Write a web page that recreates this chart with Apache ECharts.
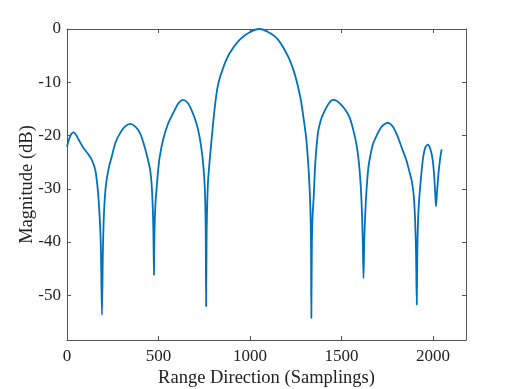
<!DOCTYPE html>
<html>
<head>
<meta charset="utf-8">
<script src="https://cdn.jsdelivr.net/npm/echarts@6/dist/echarts.min.js"></script>
<style>
    html, body { margin: 0; padding: 0; background: #fff; }
    #chart { width: 515px; height: 389px; }
</style>
</head>
<body>
<div id="chart"></div>
<script>
// 采样位置（距离向）
var samples = [
    0, 12, 24, 36, 50, 64, 91, 118, 136, 154, 162, 170, 178, 185, 191, 196, 202, 210, 218, 230,
    245, 265, 291, 318, 345, 372, 398, 418, 437, 454, 462, 468, 472, 475, 478, 483, 489, 498, 507, 525,
    553, 589, 610, 634, 658, 680, 707, 725, 740, 750, 755, 758, 760, 763, 766, 770, 776, 789, 807, 825,
    853, 889, 944, 998, 1051, 1101, 1151, 1207, 1240, 1262, 1280, 1296, 1307, 1317, 1325, 1330, 1333, 1335, 1338,
    1342, 1348, 1356, 1371, 1385, 1402, 1430, 1453, 1475, 1500, 1525, 1544, 1563, 1580, 1593, 1604, 1611, 1616, 1620, 1624,
    1629, 1636, 1645, 1653, 1670, 1689, 1720, 1753, 1780, 1807, 1830, 1853, 1871, 1885, 1895, 1902, 1907, 1911, 1914, 1918,
    1923, 1930, 1944, 1957, 1971, 1985, 1998, 2006, 2012, 2016, 2021, 2030, 2040, 2047
];
// 幅度 (dB)
var magnitude = [
    -22.1, -20.6, -19.7, -19.4, -19.9, -20.8, -22.4, -23.6, -24.6, -26.4, -28.2, -30.8, -35, -41, -53.7, -42, -34.6, -30.2, -28.0, -25.8,
    -23.9, -21.3, -19.5, -18.3, -17.8, -18.3, -19.5, -21.4, -23.8, -26.4, -29, -33, -38, -46.2, -38, -33, -30.2, -26.5, -23.9, -20.8,
    -17.7, -15.2, -13.9, -13.3, -13.8, -15.2, -17.7, -20.4, -24, -28, -32, -38, -52.1, -38, -33, -29, -26.1, -21.1, -14.8, -10.5,
    -7.3, -4.5, -2.0, -0.6, 0, -0.6, -1.9, -5.1, -8.0, -10.8, -13.8, -17.6, -20.5, -24.8, -29.5, -34, -40, -54.3, -40,
    -35, -31.5, -25.5, -19.5, -17.3, -15.8, -14.0, -13.3, -13.5, -14.3, -15.4, -16.6, -18.8, -21.4, -24.5, -29, -34, -40, -46.8, -40,
    -35, -30.5, -26.5, -24.6, -21.8, -20.2, -18.3, -17.6, -18.3, -20.2, -22.4, -24.5, -26.8, -28.8, -31.5, -36, -42, -51.8, -42, -36,
    -32.5, -29.5, -24.6, -22.3, -21.7, -22.5, -24.6, -27.5, -31, -33.3, -31, -27, -24, -22.6
];
var xTicks = [0, 500, 1000, 1500, 2000];
var yTicks = [0, -10, -20, -30, -40, -50];

var xMin = 0, xMax = 2180;
var yMin = -58.4, yMax = 0;

var points = [];
for (var i = 0; i < samples.length; i++) {
    points.push([samples[i], magnitude[i]]);
}

var axisColor = '#555555';
var textColor = '#222222';
var font = '"Liberation Serif", "DejaVu Serif", serif';

var myChart = echarts.init(document.getElementById('chart'));
var option = {
    animation: false,
    grid: {
        left: 67,
        right: 49,
        top: 29,
        bottom: 49,
        outerBoundsMode: 'none',
        containLabel: false,
        show: false
    },
    xAxis: [{
        type: 'value',
        min: xMin,
        max: xMax,
        position: 'bottom',
        name: 'Range Direction (Samplings)',
        nameLocation: 'middle',
        nameGap: 29,
        nameMoveOverlap: false,
        nameTextStyle: { fontFamily: font, fontSize: 18.5, color: textColor },
        axisLine: { show: true, onZero: false, lineStyle: { color: axisColor, width: 1 } },
        axisTick: { show: true, inside: true, length: 4, customValues: xTicks, lineStyle: { color: axisColor } },
        axisLabel: {
            show: true, customValues: xTicks, margin: 8, fontFamily: font, fontSize: 17, color: textColor,
            formatter: function (v) { return String(v); }
        },
        splitLine: { show: false }
    }, {
        type: 'value',
        min: xMin,
        max: xMax,
        position: 'top',
        axisLine: { show: true, onZero: false, lineStyle: { color: axisColor, width: 1 } },
        axisTick: { show: true, inside: true, length: 4, customValues: xTicks, lineStyle: { color: axisColor } },
        axisLabel: { show: false },
        splitLine: { show: false }
    }],
    yAxis: [{
        type: 'value',
        min: yMin,
        max: yMax,
        position: 'left',
        name: 'Magnitude (dB)',
        nameLocation: 'middle',
        nameGap: 30,
        nameMoveOverlap: false,
        nameTextStyle: { fontFamily: font, fontSize: 18.5, color: textColor },
        axisLine: { show: true, onZero: false, lineStyle: { color: axisColor, width: 1 } },
        axisTick: { show: true, inside: true, length: 4, customValues: yTicks, lineStyle: { color: axisColor } },
        axisLabel: { show: true, customValues: yTicks, margin: 6, fontFamily: font, fontSize: 17, color: textColor },
        splitLine: { show: false }
    }, {
        type: 'value',
        min: yMin,
        max: yMax,
        position: 'right',
        axisLine: { show: true, onZero: false, lineStyle: { color: axisColor, width: 1 } },
        axisTick: { show: true, inside: true, length: 4, customValues: yTicks, lineStyle: { color: axisColor } },
        axisLabel: { show: false },
        splitLine: { show: false }
    }],
    series: [{
        type: 'line',
        xAxisIndex: 0,
        yAxisIndex: 0,
        data: points,
        showSymbol: false,
        smooth: 0.25,
        lineStyle: { color: '#0072BD', width: 1.8 },
        clip: true
    }]
};
myChart.setOption(option);
</script>
</body>
</html>
